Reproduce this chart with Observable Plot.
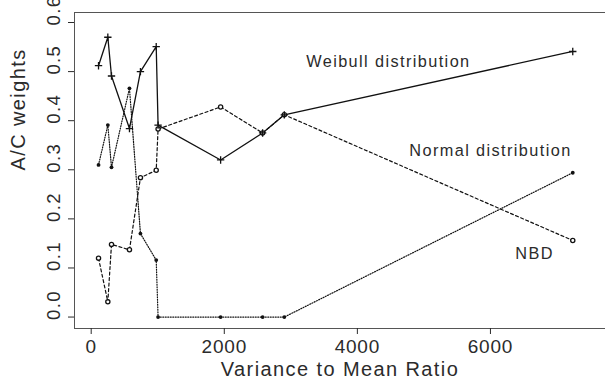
<!DOCTYPE html>
<html>
<head>
<meta charset="utf-8">
<script src="https://cdn.jsdelivr.net/npm/d3@7"></script>
<script src="https://cdn.jsdelivr.net/npm/@observablehq/plot@0.6"></script>
<style>
  html, body { margin: 0; padding: 0; background: #fff; }
  #chart svg { display: block; }
  #chart g[aria-label="x-axis tick label"] text { letter-spacing: 0.8px; }
  #chart g[aria-label="y tick label"] text { letter-spacing: -1.2px; }
  #chart g[aria-label="text"] text { letter-spacing: 1.4px; }
  #chart g[aria-label="title"] text { letter-spacing: 0.7px; }
</style>
</head>
<body>
<div id="chart"></div>
<script>
// Variance to Mean Ratio (x) for each fitted data set
const vmr = [110, 250, 305, 575, 740, 977, 1005, 1945, 2576, 2902, 7237];
// A/C weights per distribution
const weibull = [0.512, 0.570, 0.491, 0.384, 0.500, 0.551, 0.391, 0.320, 0.375, 0.412, 0.541];
const normal  = [0.310, 0.391, 0.305, 0.466, 0.170, 0.116, 0.000, 0.000, 0.000, 0.000, 0.294];
const nbd     = [0.120, 0.031, 0.148, 0.137, 0.284, 0.299, 0.383, 0.428, 0.375, 0.412, 0.156];

const xTicks = [0, 2000, 4000, 6000];
const yTicks = [0.0, 0.1, 0.2, 0.3, 0.4, 0.5, 0.6];
const xDomain = [-251, 7729];
const yDomain = [-0.0233, 0.6204];

const xTitle = "Variance to Mean Ratio";
const yTitle = "A/C weights";

// in-plot labels (data coordinates, like R's text())
const labelText = ["Weibull distribution", "Normal distribution", "NBD"];
const labelX = [4466, 6000, 6662];
const labelY = [0.521, 0.339, 0.129];

const rows = (vals) => vmr.map((x, i) => ({x, y: vals[i]}));
const labels = labelText.map((t, i) => ({t, x: labelX[i], y: labelY[i]}));

const ink = "#2b2b2b";
const frameColor = "#555";

const chart = Plot.plot({
  width: 605,
  height: 389,
  marginLeft: 74,
  marginRight: 0,
  marginTop: 12,
  marginBottom: 61,
  style: {fontFamily: "'Liberation Sans', Arial, sans-serif", color: ink, background: "#fff", overflow: "visible"},
  x: {domain: xDomain, label: null},
  y: {domain: yDomain, label: null},
  marks: [
    // box (left, top, bottom)
    Plot.ruleX([xDomain[0]], {stroke: frameColor, strokeWidth: 1}),
    Plot.ruleY([yDomain[0], yDomain[1]], {stroke: frameColor, strokeWidth: 1}),
    Plot.axisX({ticks: xTicks, label: null, tickSize: 6, tickPadding: 5, tickFormat: d => String(d), fontSize: 19, color: ink}),
    Plot.axisY({ticks: yTicks, label: null, tickSize: 6, tickFormat: () => "", color: ink}),
    // rotated y tick labels (R style)
    Plot.text(yTicks, {y: d => d, text: d3.format(".1f"), frameAnchor: "left", rotate: -90, dx: -20, dy: 3, fontSize: 18.5, fill: ink, ariaLabel: "y tick label"}),
    // series lines
    Plot.line(rows(nbd), {x: "x", y: "y", stroke: "#111", strokeWidth: 1.2, strokeDasharray: "3,2.5"}),
    Plot.line(rows(normal), {x: "x", y: "y", stroke: "#111", strokeWidth: 1.2, strokeDasharray: "1,1.5"}),
    Plot.line(rows(weibull), {x: "x", y: "y", stroke: "#111", strokeWidth: 1.3}),
    // markers
    Plot.dot(rows(nbd), {x: "x", y: "y", r: 2.1, stroke: "#111", strokeWidth: 1.3, fill: "white"}),
    Plot.dot(rows(normal), {x: "x", y: "y", r: 1.9, fill: "#111", stroke: "none"}),
    Plot.dot(rows(weibull), {x: "x", y: "y", symbol: "plus", r: 2.5, stroke: "#111", strokeWidth: 1.3}),
    // labels
    Plot.text(labels, {x: "x", y: "y", text: "t", fontSize: 16.3, fill: ink}),
    Plot.text([xTitle], {text: d => d, frameAnchor: "bottom", dy: 47, fontSize: 20, fill: ink, ariaLabel: "title"}),
    Plot.text([yTitle], {text: d => d, frameAnchor: "left", dx: -56, rotate: -90, fontSize: 20, fill: ink, ariaLabel: "title"})
  ]
});
document.getElementById("chart").appendChild(chart);
</script>
</body>
</html>
